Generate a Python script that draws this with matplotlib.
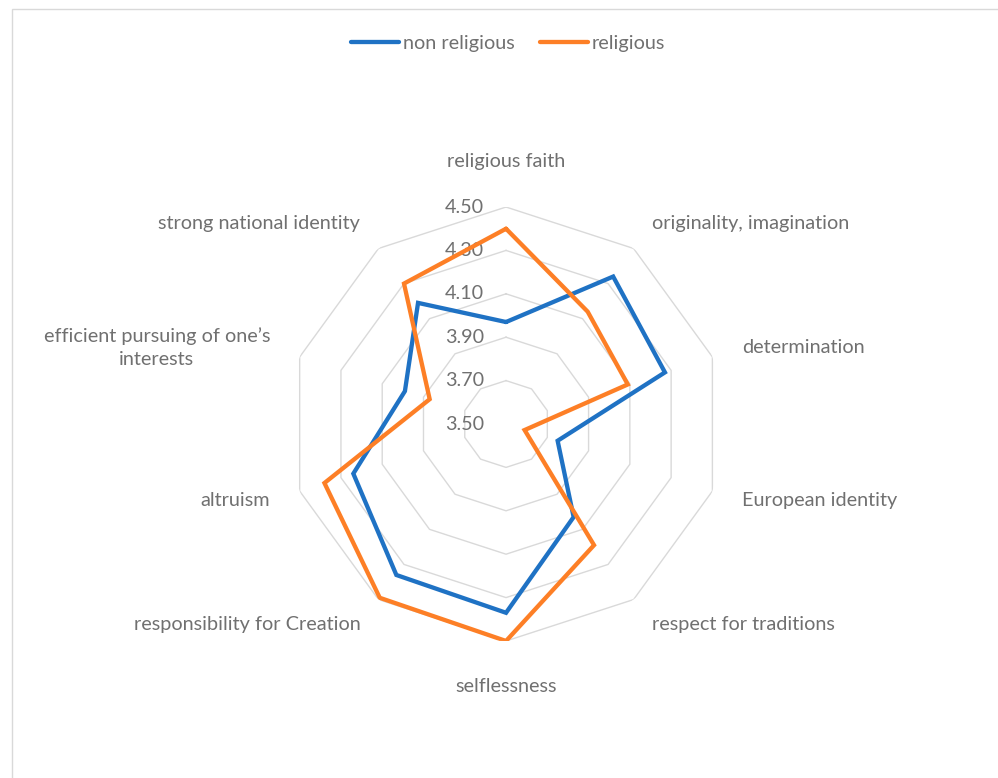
import numpy as np
import matplotlib
matplotlib.use("Agg")
import matplotlib.pyplot as plt
from matplotlib.patches import Rectangle

plt.rcParams['font.family'] = ['Lato', 'DejaVu Sans']

# data
categories = ['religious faith', 'originality, imagination', 'determination',
              'European identity', 'respect for traditions', 'selflessness',
              'responsibility for Creation', 'altruism',
              'efficient pursuing of one\u2019s\ninterests', 'strong national identity']
non_religious = [3.97, 4.34, 4.27, 3.75, 4.03, 4.37, 4.36, 4.24, 3.99, 4.19]
religious = [4.40, 4.14, 4.09, 3.59, 4.19, 4.50, 4.49, 4.38, 3.87, 4.30]
ticks = [3.50, 3.70, 3.90, 4.10, 4.30, 4.50]

BLUE = '#1F72C4'
ORANGE = '#FD7F26'
GRID = '#D9D9D9'
TXT = '#707070'

n = len(categories)
theta = np.linspace(0, 2 * np.pi, n, endpoint=False)
theta_c = np.append(theta, theta[0])


def close(v):
    return np.append(v, v[0])


fig = plt.figure(figsize=(9.98, 7.78), dpi=100)
# chart area border (right and bottom edges fall outside the image)
fig.patches.append(Rectangle((12 / 998, -0.1), 1.2, 1.1 - 9 / 778, transform=fig.transFigure,
                             fill=False, edgecolor=GRID, lw=1.0))

ax = fig.add_axes([0.2896, 0.1761, 0.4349, 0.5578], projection='polar')
ax.set_theta_zero_location('N')
ax.set_theta_direction(-1)
ax.set_ylim(ticks[0], ticks[-1])
ax.grid(False)
ax.spines['polar'].set_visible(False)
ax.set_xticks([])
ax.set_yticks([])
ax.patch.set_alpha(0)

# decagon grid
for t in ticks[1:]:
    ax.plot(theta_c, [t] * (n + 1), color=GRID, lw=1.0, zorder=1)

# tick labels left of the vertical axis
for t in ticks:
    ax.annotate('%.2f' % t, xy=(0, t), xytext=(-16, 0), textcoords='offset points',
                ha='right', va='center', fontsize=14.2, color=TXT, annotation_clip=False)

ax.plot(theta_c, close(non_religious), color=BLUE, lw=3.1, label='non religious', zorder=3,
        solid_joinstyle='miter', solid_capstyle='round')
ax.plot(theta_c, close(religious), color=ORANGE, lw=3.1, label='religious', zorder=4,
        solid_joinstyle='miter', solid_capstyle='round')

# category labels
for ang, lab in zip(theta, categories):
    deg = np.degrees(ang)
    r_lab = 4.643
    ha, va = 'center', 'center'
    if np.isclose(deg, 0) or np.isclose(deg, 180):
        r_lab = 4.71
    elif deg < 180:
        ha = 'left'
    else:
        ha = 'right'
    ax.text(ang, r_lab, lab, ha=ha, va=va, fontsize=14.3, color=TXT,
            multialignment='center', linespacing=1.4, clip_on=False)

leg = fig.legend(loc='upper center', bbox_to_anchor=(0.509, 0.978), ncol=2, frameon=False,
                 fontsize=14.3, handlelength=2.4, handletextpad=0.2, columnspacing=1.3)
for txt in leg.get_texts():
    txt.set_color(TXT)

fig.savefig('out.png', dpi=100)
